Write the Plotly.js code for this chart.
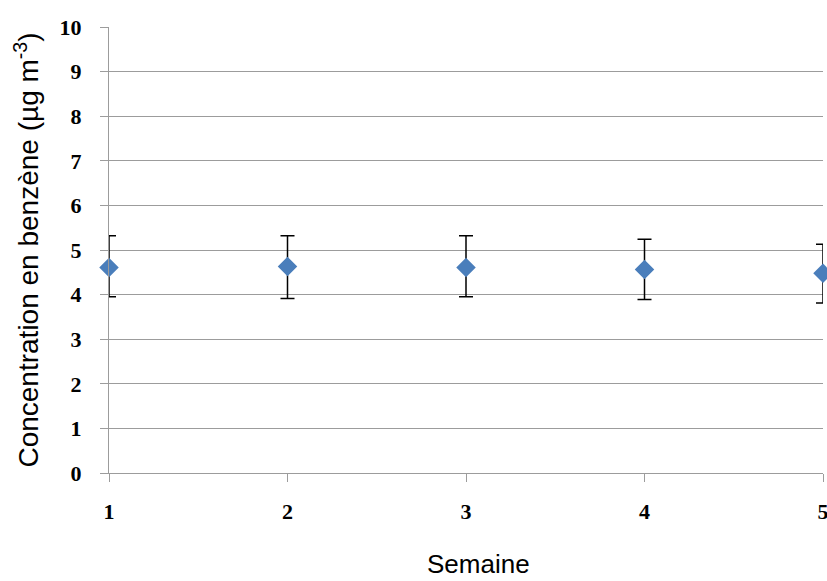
<!DOCTYPE html>
<html>
<head>
<meta charset="utf-8">
<script src="https://cdn.plot.ly/plotly-3.0.1.min.js"></script>
<style>html,body{margin:0;padding:0;background:#fff;}#chart{width:827px;height:581px;}</style>
</head>
<body>
<div id="chart"></div>
<script>
const weeks = [1, 2, 3, 4, 5];
const concentration = [4.61, 4.63, 4.61, 4.56, 4.48];
const errPlus = [0.71, 0.69, 0.71, 0.68, 0.65];
const errMinus = [0.66, 0.72, 0.66, 0.67, 0.67];
const yTicks = [0, 1, 2, 3, 4, 5, 6, 7, 8, 9, 10];
const xTicks = [1, 2, 3, 4, 5];
const xTitle = 'Semaine';
const yTitle = 'Concentration en benzène (µg m<sup>-3</sup>)';

const trace = {
  x: weeks,
  y: concentration,
  type: 'scatter',
  mode: 'markers',
  cliponaxis: false,
  marker: {symbol: 'diamond', size: 15, color: '#4a7ebb'},
  error_y: {type: 'data', symmetric: false, array: errPlus, arrayminus: errMinus,
            color: '#000', thickness: 1.5, width: 7}
};

const tickFont = {family: 'Liberation Serif, serif', size: 22, color: '#000', weight: 'bold'};
const titleFont = {family: 'Liberation Sans, Arial, sans-serif', size: 26, color: '#000'};

const layout = {
  width: 827, height: 581,
  margin: {l: 109, r: 4, t: 27, b: 108},
  paper_bgcolor: '#fff', plot_bgcolor: '#fff',
  showlegend: false,
  xaxis: {
    range: [1, 5], tickvals: xTicks, ticktext: xTicks.map(String),
    showgrid: false, zeroline: false,
    showline: true, linecolor: '#9c9c9c', linewidth: 1,
    ticks: 'outside', ticklen: 8, tickcolor: '#9c9c9c',
    ticklabelstandoff: 11, ticklabeloverflow: 'allow',
    tickfont: tickFont
  },
  yaxis: {
    range: [0, 10], tickvals: yTicks, ticktext: yTicks.map(String),
    showgrid: true, gridcolor: '#9c9c9c', gridwidth: 1, zeroline: false,
    showline: true, linecolor: '#9c9c9c', linewidth: 1,
    ticks: 'outside', ticklen: 8, tickcolor: '#9c9c9c',
    ticklabelstandoff: 14, ticklabeloverflow: 'allow',
    tickfont: tickFont,
    title: {text: yTitle, font: {family: titleFont.family, size: 28, color: '#000'}, standoff: 12}
  },
  annotations: [{
    text: xTitle, font: titleFont, showarrow: false,
    xref: 'paper', yref: 'paper', x: 0.518, y: -0.203,
    xanchor: 'center', yanchor: 'middle', borderpad: 0
  }]
};

Plotly.newPlot('chart', [trace], layout, {displayModeBar: false, staticPlot: true});
</script>
</body>
</html>
